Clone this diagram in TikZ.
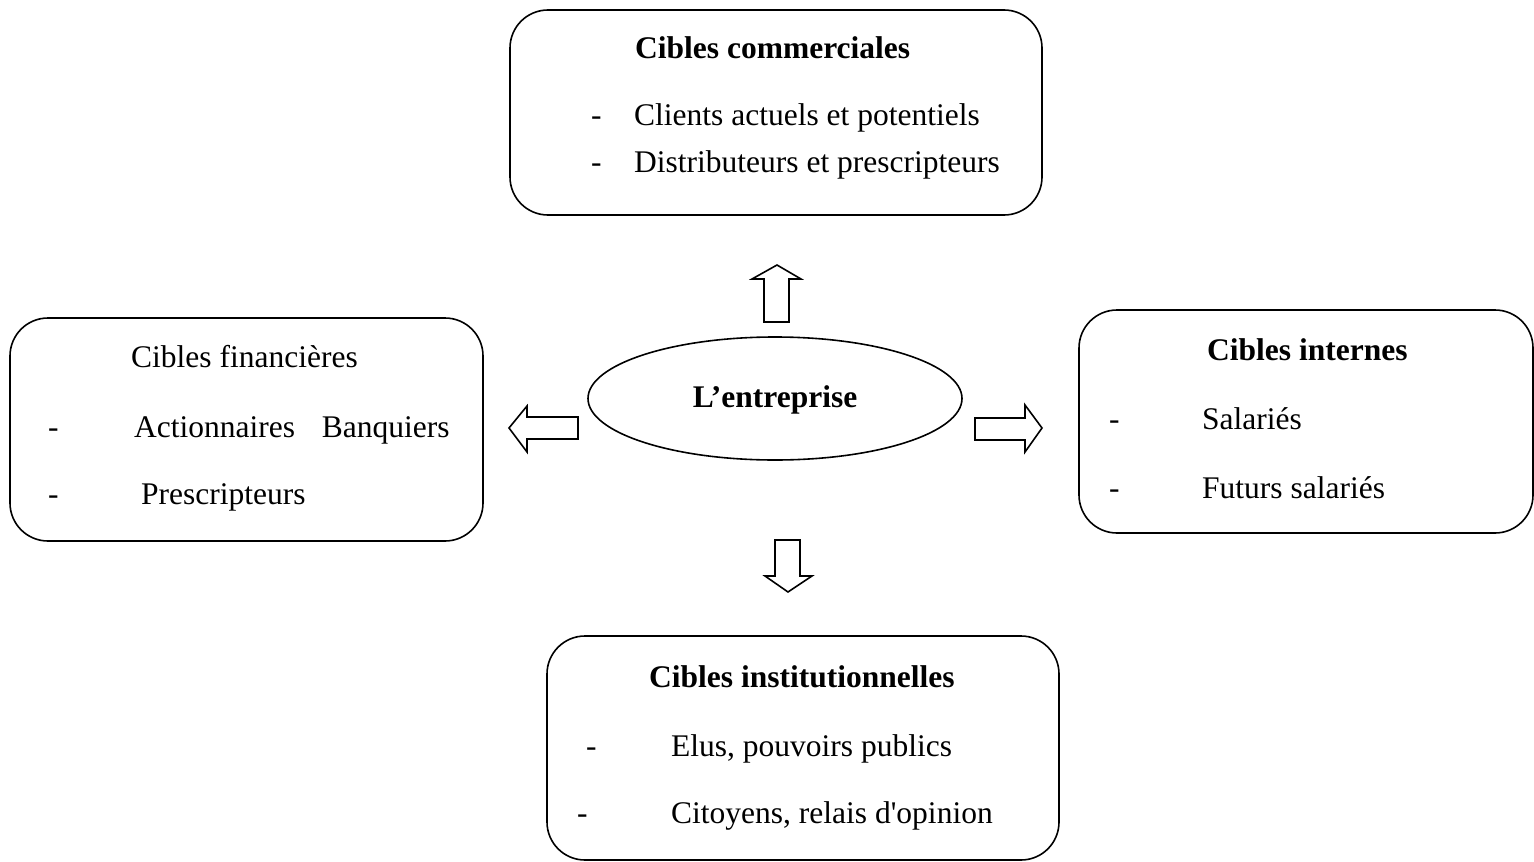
\documentclass[tikz,border=0pt]{standalone}
\usepackage{fontspec}
\setmainfont{Liberation Serif}[Ligatures=TeXOff]
\usetikzlibrary{shapes.geometric}

\begin{document}
\begin{tikzpicture}[x=1pt,y=-1pt,
    cible/.style={draw, line width=1.6pt, rounded corners=38pt, inner sep=0pt},
    txt/.style={anchor=base west, inner sep=0pt, font=\fontsize{31.5}{38}\selectfont},
    titre/.style={txt, font=\fontsize{31.5}{38}\selectfont\bfseries},
    fleche/.style={draw, line width=1.6pt, line join=miter}]
    \useasboundingbox (0,0) rectangle (1534,862);

    % les cadres
    \node[cible, minimum width=532pt, minimum height=205pt] (comm) at (776,112.5) {};
    \node[cible, minimum width=473pt, minimum height=223pt] (fin) at (246.5,429.5) {};
    \node[cible, minimum width=454pt, minimum height=223pt] (int) at (1306,421.5) {};
    \node[cible, minimum width=512pt, minimum height=224pt] (inst) at (803,748) {};
    \node[draw, ellipse, line width=1.6pt, minimum width=374pt, minimum height=123pt] (ent) at (775,398.5) {};
    \node[titre, anchor=base] (entT) at (775,407) {L’entreprise};

    % cibles commerciales
    \node[titre] (commT) at (635,58) {Cibles commerciales};
    \node[txt] (commD1) at (591,125) {-};
    \node[txt] (commA) at (634,125) {Clients actuels et potentiels};
    \node[txt] (commD2) at (591,172) {-};
    \node[txt] (commB) at (634,172) {Distributeurs et prescripteurs};

    % cibles financieres
    \node[txt] (finT) at (131,367) {Cibles financières};
    \node[txt] (finD1) at (48,437) {-};
    \node[txt] (finA) at (134,437) {Actionnaires\hspace*{0.85em}Banquiers};
    \node[txt] (finD2) at (48,504) {-};
    \node[txt] (finB) at (141,504) {Prescripteurs};

    % cibles internes
    \node[titre] (intT) at (1207,360) {Cibles internes};
    \node[txt] (intD1) at (1109,429) {-};
    \node[txt] (intA) at (1202,429) {Salariés};
    \node[txt] (intD2) at (1109,498) {-};
    \node[txt] (intB) at (1202,498) {Futurs salariés};

    % cibles institutionnelles
    \node[titre] (instT) at (649,687) {Cibles institutionnelles};
    \node[txt] (instD1) at (586,756) {-};
    \node[txt] (instA) at (671,756) {Elus, pouvoirs publics};
    \node[txt] (instD2) at (577,823) {-};
    \node[txt] (instB) at (671,823) {Citoyens, relais d'opinion};

    % les fleches
    \draw[fleche] (764,322) -- (764,279) -- (752,279) -- (777,265) -- (801,279) -- (789,279) -- (789,322) -- cycle;
    \draw[fleche] (775,540) -- (775,576) -- (765,576) -- (788,592) -- (812,576) -- (800,576) -- (800,540) -- cycle;
    \draw[fleche] (578,417) -- (527,417) -- (527,406) -- (509,428) -- (527,452) -- (527,439) -- (578,439) -- cycle;
    \draw[fleche] (975,418) -- (1025,418) -- (1025,405) -- (1042,428) -- (1025,452) -- (1025,440) -- (975,440) -- cycle;
\end{tikzpicture}
\end{document}
